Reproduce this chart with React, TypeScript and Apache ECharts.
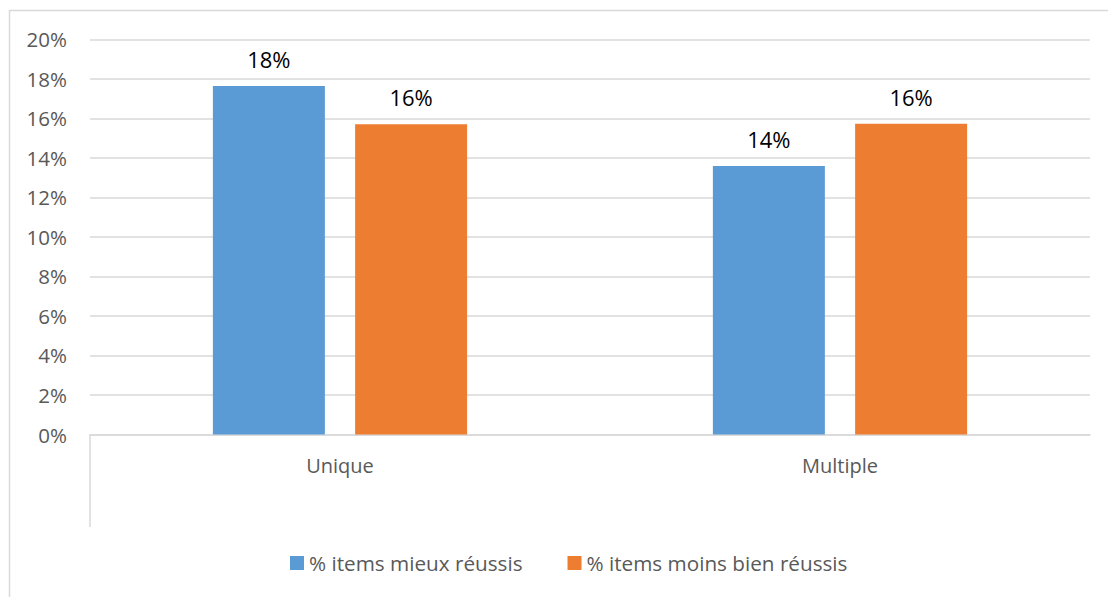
import React, { useEffect, useRef } from "react";
import * as echarts from "echarts";

// Question type categories and the two series (percent of items)
const categories = ["Unique", "Multiple"];
const seriesNames = ["% items mieux réussis", "% items moins bien réussis"];
const mieuxReussis = [17.64, 13.59];
const moinsBienReussis = [15.7, 15.72];
const yTicks = { min: 0, max: 20, interval: 2 };

const FONT = "'Open Sans', 'Noto Sans', sans-serif";
const GRID_LINE = "#d9d9d9";

export default function App() {
  const ref = useRef<HTMLDivElement>(null);

  useEffect(() => {
    if (!ref.current) return;
    const chart = echarts.init(ref.current, null, { renderer: "svg" });
    const label = {
      show: true,
      position: "top",
      distance: 16,
      color: "#000000",
      fontSize: 22,
      fontFamily: FONT,
      formatter: (p: any) => `${Math.round(p.value)}%`,
    };
    chart.setOption({
      animation: false,
      backgroundColor: "#ffffff",
      grid: { left: 90, right: 18, top: 39.3, bottom: 162.5, containLabel: false },
      xAxis: {
        type: "category",
        data: categories,
        axisLine: { show: true, lineStyle: { color: GRID_LINE, width: 1.5 } },
        axisTick: { show: false },
        axisLabel: { color: "#595959", fontSize: 20, fontFamily: FONT, margin: 21 },
      },
      yAxis: {
        type: "value",
        min: yTicks.min,
        max: yTicks.max,
        interval: yTicks.interval,
        axisLine: { show: false },
        axisTick: { show: false },
        splitLine: { lineStyle: { color: GRID_LINE, width: 1.5 } },
        axisLabel: {
          color: "#595959",
          fontSize: 20.5,
          fontFamily: FONT,
          margin: 23,
          formatter: "{value}%",
        },
      },
      legend: {
        bottom: 17,
        left: 285,
        icon: "rect",
        itemWidth: 14,
        itemHeight: 14,
        itemGap: 45,
        textStyle: { color: "#595959", fontSize: 20.7, fontFamily: FONT, lineHeight: 24 },
        data: seriesNames,
      },
      graphic: [
        {
          type: "rect",
          shape: { x: 9.5, y: 10.5, width: 1200, height: 700 },
          style: { fill: "none", stroke: GRID_LINE, lineWidth: 1.5 },
          silent: true,
        },
        {
          type: "line",
          shape: { x1: 90, y1: 434.5, x2: 90, y2: 527 },
          style: { stroke: GRID_LINE, lineWidth: 1.5 },
          silent: true,
        },
      ],
      series: [
        {
          name: seriesNames[0],
          type: "bar",
          data: mieuxReussis,
          barWidth: 112,
          barGap: "27%",
          itemStyle: { color: "#5b9bd5" },
          label,
        },
        {
          name: seriesNames[1],
          type: "bar",
          data: moinsBienReussis,
          barWidth: 112,
          barGap: "27%",
          itemStyle: { color: "#ed7d31" },
          label,
        },
      ],
    });
    return () => chart.dispose();
  }, []);

  return (
    <div
      ref={ref}
      style={{ position: "fixed", left: 0, top: 0, width: 1108, height: 597 }}
    />
  );
}
